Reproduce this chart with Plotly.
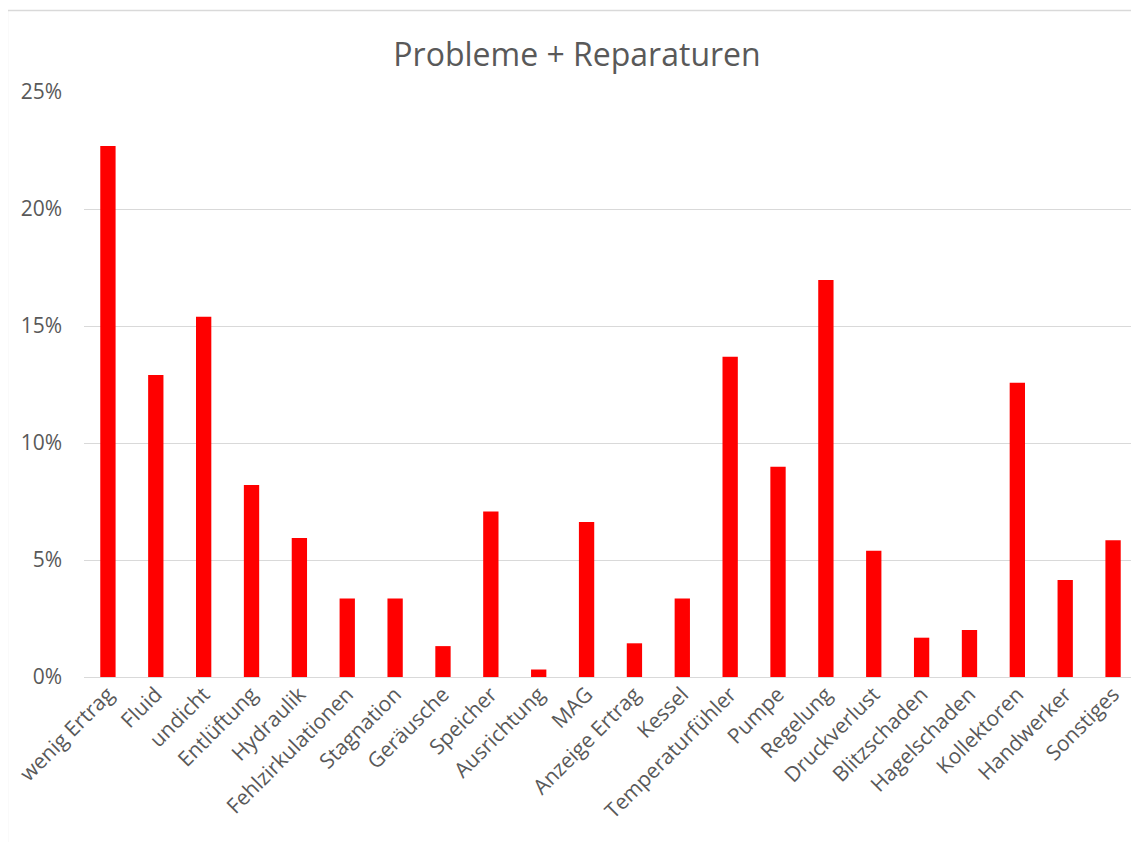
import plotly.graph_objects as go

categories = ["wenig Ertrag", "Fluid", "undicht", "Entlüftung", "Hydraulik",
              "Fehlzirkulationen", "Stagnation", "Geräusche", "Speicher",
              "Ausrichtung", "MAG", "Anzeige Ertrag", "Kessel",
              "Temperaturfühler", "Pumpe", "Regelung", "Druckverlust",
              "Blitzschaden", "Hagelschaden", "Kollektoren", "Handwerker",
              "Sonstiges"]
values = [0.2269, 0.1291, 0.1540, 0.0820, 0.0594, 0.0336, 0.0336, 0.0132,
          0.0707, 0.0032, 0.0662, 0.0144, 0.0336, 0.1369, 0.0899, 0.1697,
          0.0539, 0.0168, 0.0201, 0.1258, 0.0415, 0.0584]
y_ticks = [0, 0.05, 0.10, 0.15, 0.20, 0.25]

# page body has an 8px margin; figure coordinates = screen coordinates - 8
OFF = 8
W, H = 1139 - OFF, 842 - OFF
L, R, T, B = 84 - OFF, 2, 92 - OFF, 165
pw, ph = W - L - R, H - T - B

def px_x(p):
    return (p - OFF - L) / pw

def px_y(p):
    return (H - B - (p - OFF)) / ph

fig = go.Figure(go.Bar(
    x=categories, y=values,
    marker=dict(color="#ff0000", line=dict(width=0)),
    hoverinfo="x+y",
))

fig.update_layout(
    width=W, height=H,
    margin=dict(l=L, r=R, t=T, b=B),
    paper_bgcolor="white", plot_bgcolor="white",
    bargap=0.68,
    showlegend=False,
    font=dict(family="Open Sans, DejaVu Sans, sans-serif", color="#595959", size=21),
    title=dict(text="Probleme + Reparaturen", x=(577 - OFF) / W, xanchor="center",
               y=1 - (55 - OFF) / H, yanchor="middle",
               font=dict(size=32, color="#595959")),
    xaxis=dict(tickangle=-45, showgrid=False, showline=False, zeroline=False,
               ticks="", tickfont=dict(size=21, color="#595959")),
    yaxis=dict(range=[0, 0.25], tickvals=y_ticks, tickformat=".0%",
               showgrid=True, gridcolor="#d9d9d9", gridwidth=1.3,
               zeroline=True, zerolinecolor="#d9d9d9", zerolinewidth=1.3,
               showline=False, ticks="", ticklabelstandoff=21,
               tickfont=dict(size=21, color="#595959")),
    shapes=[dict(type="rect", xref="paper", yref="paper",
                 x0=px_x(7.5), x1=px_x(1160), y0=px_y(860), y1=px_y(10.5),
                 line=dict(color="#d9d9d9", width=1.3), fillcolor="rgba(0,0,0,0)",
                 layer="below")],
)

fig.write_html("out.html")
